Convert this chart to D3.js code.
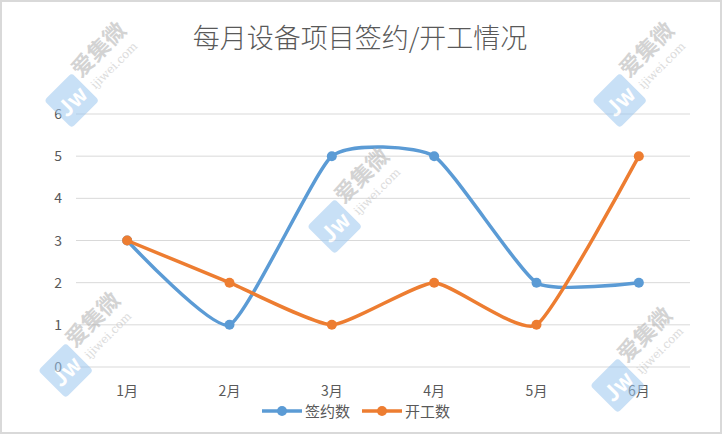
<!DOCTYPE html>
<html>
<head>
<meta charset="utf-8">
<script src="https://cdn.jsdelivr.net/npm/d3@7"></script>
<style>
  body { margin: 0; background: #fff; }
  svg { display: block; font-family: "Noto Sans CJK SC", "Microsoft YaHei", sans-serif; }
</style>
</head>
<body>
<script>
// data
var months = ["1月", "2月", "3月", "4月", "5月", "6月"];
var signed = [3, 1, 5, 5, 2, 2];      // 签约数
var started = [3, 2, 1, 2, 1, 5];     // 开工数
var yTicks = [0, 1, 2, 3, 4, 5, 6];
var seriesNames = ["签约数", "开工数"];
var colors = ["#5B9BD5", "#ED7D31"];

var width = 722, height = 434;
var margin = { top: 114, right: 32, bottom: 67, left: 76 };
var plotW = width - margin.left - margin.right;
var plotH = height - margin.top - margin.bottom;

var svg = d3.select("body").append("svg")
    .attr("width", width)
    .attr("height", height);

svg.append("rect")
    .attr("x", 1).attr("y", 1)
    .attr("width", width - 2).attr("height", height - 2)
    .attr("fill", "#fff")
    .attr("stroke", "#d9d9d9")
    .attr("stroke-width", 2);

svg.append("text")
    .attr("x", 360).attr("y", 48)
    .attr("text-anchor", "middle")
    .attr("fill", "#595959")
    .attr("font-size", 27)
    .attr("font-weight", 300)
    .text("每月设备项目签约/开工情况");

var x = d3.scaleBand().domain(months).range([0, plotW]);
var y = d3.scaleLinear().domain([0, 6]).range([plotH, 0]);

var g = svg.append("g")
    .attr("transform", "translate(" + margin.left + "," + margin.top + ")");

// grid
g.selectAll(".grid").data(yTicks).enter().append("line")
    .attr("x1", 0).attr("x2", plotW)
    .attr("y1", function (d) { return y(d); })
    .attr("y2", function (d) { return y(d); })
    .attr("stroke", "#d9d9d9")
    .attr("stroke-width", 1);

// y labels
g.selectAll(".ylab").data(yTicks).enter().append("text")
    .attr("x", -14)
    .attr("y", function (d) { return y(d) + 5; })
    .attr("text-anchor", "end")
    .attr("fill", "#595959")
    .attr("font-size", 14)
    .text(function (d) { return d; });

// x labels
g.selectAll(".xlab").data(months).enter().append("text")
    .attr("x", function (d) { return x(d) + x.bandwidth() / 2; })
    .attr("y", plotH + 29)
    .attr("text-anchor", "middle")
    .attr("fill", "#595959")
    .attr("font-size", 14)
    .text(function (d) { return d; });

// lines (Excel-style smoothing)
var line = d3.line()
    .x(function (d, i) { return x(months[i]) + x.bandwidth() / 2; })
    .y(function (d) { return y(d); })
    .curve(d3.curveCardinal.tension(0.5));

[signed, started].forEach(function (vals, k) {
    g.append("path")
        .datum(vals)
        .attr("d", line)
        .attr("fill", "none")
        .attr("stroke", colors[k])
        .attr("stroke-width", 3.5)
        .attr("stroke-linecap", "round");
    g.selectAll(".pt" + k).data(vals).enter().append("circle")
        .attr("cx", function (d, i) { return x(months[i]) + x.bandwidth() / 2; })
        .attr("cy", function (d) { return y(d); })
        .attr("r", 5)
        .attr("fill", colors[k]);
});

// watermarks
var marks = [[68, 84], [616, 84], [331, 210], [62, 354], [614, 369]];
var wm = svg.selectAll(".wm").data(marks).enter().append("g")
    .attr("opacity", 0.55)
    .attr("transform", function (d) { return "translate(" + d[0] + "," + d[1] + ") rotate(-45) scale(1.3)"; });
wm.append("rect")
    .attr("x", -22).attr("y", -4)
    .attr("width", 30).attr("height", 30)
    .attr("rx", 3)
    .attr("fill", "#9cc7f0");
wm.append("text")
    .attr("x", -7).attr("y", 18)
    .attr("text-anchor", "middle")
    .attr("fill", "#fff")
    .attr("font-size", 17)
    .attr("font-weight", "bold")
    .text("Jw");
wm.append("text")
    .attr("x", 10).attr("y", 4)
    .attr("fill", "#b0b0b0")
    .attr("font-size", 17)
    .attr("font-weight", "bold")
    .text("爱集微");
wm.append("text")
    .attr("x", 12).attr("y", 18)
    .attr("fill", "#c0c0c0")
    .attr("font-size", 9)
    .attr("font-family", "DejaVu Serif, serif")
    .text("ijiwei.com");

// legend
var legend = svg.append("g").attr("transform", "translate(262,411)");
seriesNames.forEach(function (name, k) {
    var lg = legend.append("g").attr("transform", "translate(" + (k * 100) + ",0)");
    lg.append("line")
        .attr("x1", 0).attr("x2", 40)
        .attr("stroke", colors[k])
        .attr("stroke-width", 3.5);
    lg.append("circle")
        .attr("cx", 20).attr("r", 5)
        .attr("fill", colors[k]);
    lg.append("text")
        .attr("x", 43).attr("y", 6)
        .attr("fill", "#595959")
        .attr("font-size", 15)
        .text(name);
});
</script>
</body>
</html>
